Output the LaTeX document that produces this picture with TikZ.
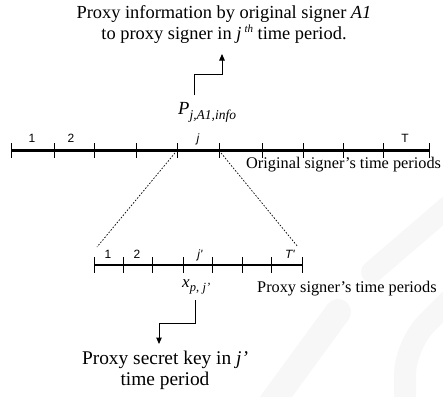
\documentclass[tikz,border=0pt]{standalone}
\usepackage{fontspec}
\setmainfont{Liberation Serif}
\newfontfamily\arialfont{Liberation Sans}
\usetikzlibrary{arrows.meta}

\tikzset{
  axis/.style={line width=2.4pt},
  tick/.style={line width=1pt},
  zoomline/.style={dash pattern=on 1.6pt off 1.6pt, line width=0.7pt},
  pointer/.style={line width=1pt, -{Triangle[length=6.5pt,width=5.5pt]}},
  periodlbl/.style={font=\arialfont\fontsize{12}{13}\selectfont, inner sep=0pt, anchor=base},
  caption/.style={font=\fontsize{18.4}{20.5}\selectfont, inner sep=0pt},
  axislbl/.style={font=\fontsize{16.3}{18}\selectfont, inner sep=0pt, anchor=base west},
  faintband/.style={draw=black!3, line cap=round},
}

\begin{document}
\begin{tikzpicture}[x=1pt, y=-1pt]
\useasboundingbox (0,0) rectangle (443,396);

% faint background bands in the lower right
\draw[faintband, line width=22pt] (450,205) -- (372,272);
\draw[faintband, line width=26pt] (338,312) -- (270,405);
\draw[faintband, line width=22pt, rounded corners=30pt] (450,300) -- (405,345) -- (405,410);

% top description (base anchor sits on the last line)
\node[caption, align=center, anchor=base] (info) at (224,39)
  {Proxy information by original signer \textit{A1}\\to proxy signer in \textit{j}\,\raisebox{6pt}{\fontsize{11}{11}\selectfont\textit{th}} time period.};
\coordinate (infotip) at (222,54);

% P_{j,A1,info}
\node[inner sep=0pt, anchor=base west] (pinfo) at (178,114)
  {\fontsize{18.5}{18.5}\selectfont\textit{P}\raisebox{-5pt}{\fontsize{13.5}{13.5}\selectfont\textit{j,A1,info}}};
\coordinate (pstart) at (194,95);
\draw[pointer] (pstart) -- (194,74) -| (infotip);

% original signer's time axis
\coordinate (oa) at (11,150.5);
\coordinate (ob) at (429,150.5);
\draw[axis] (oa) -- (ob);
\foreach \x in {11,54,94,136,177,219,262,303,343,383,429}
  \draw[tick] (\x,143) -- (\x,158);
\coordinate (jl) at (177,150.5);
\coordinate (jr) at (219,150.5);
\node[periodlbl] (o1) at (32,142) {1};
\node[periodlbl] (o2) at (71,142) {2};
\node[periodlbl] (oj) at (198,142) {\textit{j}};
\node[periodlbl] (oT) at (405,142) {T};
\node[axislbl] (olbl) at (246,168) {Original signer's time periods};

% proxy signer's time axis
\coordinate (pa) at (94,265);
\coordinate (pb) at (302,265);
\draw[axis] (pa) -- (pb);
\foreach \x in {94,123,152,183,212,242,271,302}
  \draw[tick] (\x,257) -- (\x,273);
\node[periodlbl] (p1) at (108,258) {1};
\node[periodlbl] (p2) at (137,258) {2};
\node[periodlbl] (pj) at (200,258) {\textit{j'}};
\node[periodlbl] (pT) at (290,258) {\textit{T'}};
\node[axislbl] (plbl) at (257,292) {Proxy signer's time periods};

% zoom from period j to the proxy axis
\coordinate (zl) at (97,247);
\coordinate (zr) at (298,247);
\draw[zoomline] (jl) -- (zl);
\draw[zoomline] (jr) -- (zr);

% x_{p,j'}
\node[inner sep=0pt, anchor=base west] (xkey) at (182,287)
  {\fontsize{17}{17}\selectfont\textit{x}\raisebox{-4pt}{\fontsize{12.5}{12.5}\selectfont\textit{p},\;\textit{j'}}};
\coordinate (xstart) at (195,300);

% bottom description
\node[caption, font=\fontsize{19.4}{20.5}\selectfont, align=center, anchor=base] (secret) at (165,385)
  {Proxy secret key in \textit{j'}\\time period};
\coordinate (secrettip) at (159,344);
\draw[pointer] (xstart) -- (195,323) -| (secrettip);
\end{tikzpicture}
\end{document}
